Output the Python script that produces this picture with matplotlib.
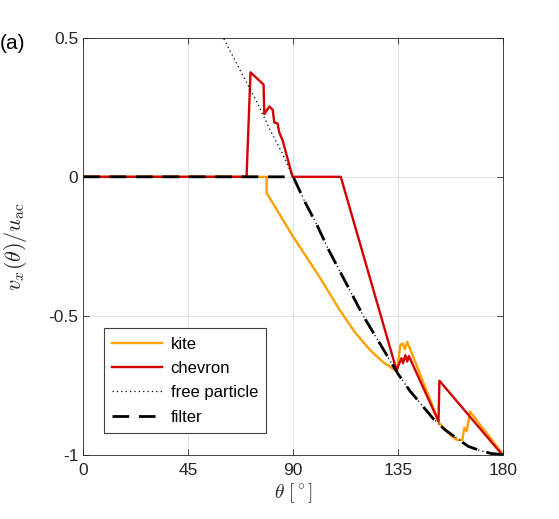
import numpy as np
import matplotlib.pyplot as plt

plt.rcParams['font.family'] = ['Liberation Sans', 'DejaVu Sans']
plt.rcParams['mathtext.fontset'] = 'cm'

# kite (orange)
kite_theta = [0, 78.6, 78.6, 90.0, 101.4, 110.0, 116.5, 122.9, 128.5, 134.4,
              136.0, 136.9, 137.9, 138.9, 152.7, 156.6, 160.1, 162.5, 163.4,
              164.4, 165.8, 180]
kite_v = [0, 0, -0.058, -0.216, -0.362, -0.48, -0.56, -0.623, -0.667, -0.70,
          -0.605, -0.60, -0.621, -0.594, -0.887, -0.923, -0.947, -0.947, -0.903,
          -0.915, -0.845, -1.0]

# chevron (red)
chev_theta = [0, 70.0, 71.7, 77.3, 77.6, 79.8, 81.2, 81.9, 83.3, 84.0, 85.5,
              89.7, 110.4, 134.3, 136.4, 137.1, 138.1, 138.9, 139.6, 152.3,
              152.7, 179.6]
chev_v = [0, 0, 0.376, 0.332, 0.226, 0.253, 0.241, 0.196, 0.192, 0.16, 0.13,
          0.0, 0.0, -0.696, -0.653, -0.671, -0.642, -0.665, -0.645, -0.88,
          -0.734, -1.0]

# free particle (dotted)
fp_theta = [59.4, 65, 70, 75, 80, 85, 90, 95, 100, 105, 110, 115, 120, 125,
            130, 135, 140, 145, 150, 155, 160, 165, 170, 175, 180]
fp_v = [0.51, 0.42, 0.34, 0.26, 0.17, 0.09, 0.0, -0.09, -0.17, -0.26, -0.34,
        -0.42, -0.5, -0.57, -0.64, -0.71, -0.77, -0.82, -0.87, -0.91, -0.94,
        -0.97, -0.985, -0.996, -1.0]

# filter (dashed)
filt_theta = [0, 90, 95, 100, 105, 110, 115, 120, 125, 130, 135, 140, 145,
              150, 155, 160, 165, 170, 175, 180]
filt_v = [0, 0.0, -0.09, -0.17, -0.26, -0.34, -0.42, -0.5, -0.57, -0.64, -0.71,
          -0.77, -0.82, -0.87, -0.91, -0.94, -0.97, -0.985, -0.996, -1.0]

xticks = [0, 45, 90, 135, 180]
yticks = [-1, -0.5, 0, 0.5]
ytick_labels = ['-1', '-0.5', '0', '0.5']

fig = plt.figure(figsize=(5.59, 5.19), dpi=100)
ax = fig.add_axes([0.149, 0.124, 0.751, 0.803])

ax.plot(kite_theta, kite_v, color='#FFA000', lw=1.7, label='kite')
ax.plot(chev_theta, chev_v, color='#D40000', lw=1.7, label='chevron')
ax.plot(fp_theta, fp_v, color='black', lw=0.9, ls=(0, (1, 2.5)), label='free particle')
ax.plot(filt_theta, filt_v, color='black', lw=2, ls=(0, (6, 3.5)), label='filter')

ax.set_xlim(0, 180)
ax.set_ylim(-1, 0.5)
ax.set_xticks(xticks)
ax.set_yticks(yticks)
ax.set_yticklabels(ytick_labels)
ax.tick_params(direction='in', labelsize=12.5, length=4, width=0.6,
               colors='#262626', top=True, right=True)
ax.tick_params(labeltop=False, labelright=False)
ax.tick_params(axis='x', pad=6)
ax.grid(True, color='#dcdcdc', lw=0.6)
for s in ax.spines.values():
    s.set_color('#262626')
    s.set_linewidth(0.6)

ax.set_xlabel(r'$\theta\ [^\circ]$', fontsize=14, labelpad=2, color='#262626')
ax.set_ylabel(r'$v_x(\theta)/u_{\rm ac}$', fontsize=16, labelpad=14, color='#262626')
fig.text(0.0, 0.917, '(a)', fontsize=15, ha='left', va='center')

leg = ax.legend(loc='lower left', bbox_to_anchor=(0.049, 0.052), borderaxespad=0,
                fontsize=12, fancybox=False, handlelength=3.0, framealpha=1,
                edgecolor='#404040', labelspacing=0.56, handletextpad=0.5,
                borderpad=0.5)
leg.get_frame().set_linewidth(0.8)

fig.savefig('out.png', dpi=100)
